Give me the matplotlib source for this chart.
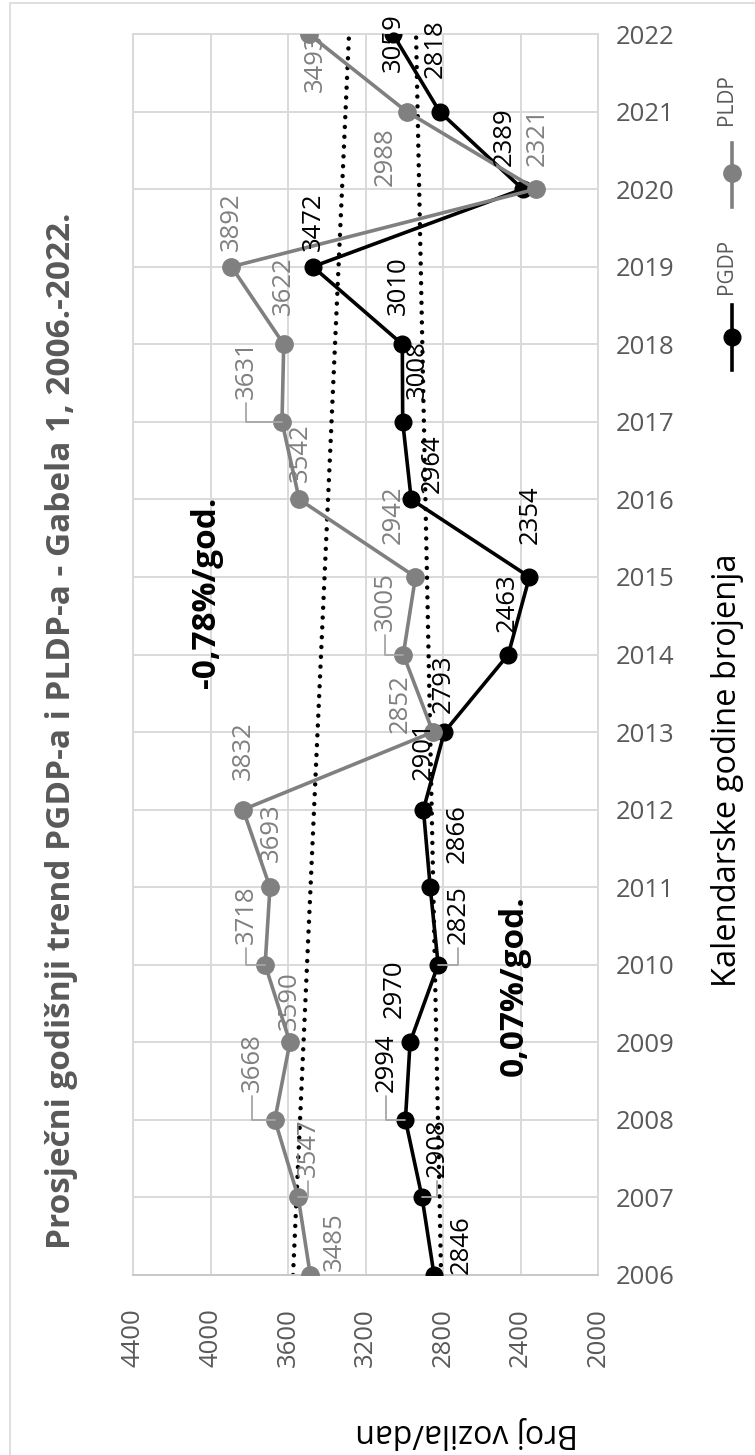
import numpy as np
import matplotlib.pyplot as plt
from matplotlib.lines import Line2D
from matplotlib.patches import Rectangle

plt.rcParams['font.family'] = ['Open Sans', 'DejaVu Sans']

### podaci
godine = list(range(2006, 2023))
pgdp = [2846, 2908, 2994, 2970, 2825, 2866, 2901, 2793, 2463, 2354, 2964, 3008, 3010, 3472, 2389, 2818, 3059]
pldp = [3485, 3547, 3668, 3590, 3718, 3693, 3832, 2852, 3005, 2942, 3542, 3631, 3622, 3892, 2321, 2988, 3493]
# trend linije (krajnje vrijednosti ocitane sa slike)
trend_god = [2006, 2022]
pgdp_trend = [2810, 2939]
pldp_trend = [3574, 3285]
vrijednosti = [4400, 4000, 3600, 3200, 2800, 2400, 2000]

naslov = 'Prosječni godišnji trend PGDP-a i PLDP-a - Gabela 1, 2006.-2022.'

# pomaci oznaka u pikselima (dx, dy prema dolje)
pgdp_off = [(27, -30), (15, -50), (-19, -57), (-16, -54), (20, -50), (27, -54), (0, -59), (-1, -48),
            (-1, -52), (1, -62), (21, -36), (15, -52), (-4, -59), (1, -45), (-18, -52), (-4, -63), (0, 9)]
pldp_off = [(24, -33), (10, -50), (-23, -57), (-1, -42), (-19, -50), (1, -54), (0, -59), (-33, -28),
            (-18, -53), (-22, -62), (1, -47), (-36, -52), (0, -59), (0, -45), (1, -52), (-21, 45), (7, 29)]
# oznake s linijom vodilicom
pgdp_vod = [0, 1, 1, 0, 1, 0, 0, 0, 0, 0, 0, 0, 0, 0, 0, 0, 0]
pldp_vod = [0, 1, 1, 0, 1, 0, 0, 0, 1, 0, 0, 1, 0, 0, 0, 0, 0]

W, H = 755, 1455
fig = plt.figure(figsize=(W/100, H/100), dpi=100)
ax = fig.add_axes([133/W, 1-1275/H, 465/W, 1241/H])

GRID = '#d9d9d9'
SIVA = '#808080'
TEKST = '#595959'
VODIC = '#a6a6a6'

ax.set_xlim(4400, 2000)
ax.set_ylim(2006, 2022)
ax.set_xticks(vrijednosti)
ax.set_yticks(godine)
ax.grid(True, color=GRID, lw=1.4)
ax.set_axisbelow(True)
for s in ax.spines.values():
    s.set_color(GRID)
    s.set_linewidth(1.4)
ax.spines['bottom'].set_color('#c8c8c8')
ax.yaxis.tick_right()
ax.tick_params(axis='y', length=0, pad=13, labelsize=18.5, labelcolor=TEKST)
ax.tick_params(axis='x', length=0, pad=24, labelsize=18.5, labelcolor=TEKST, labelrotation=90)

# trendovi
tocke = (0, (0.01, 2.2))
ax.plot(pldp_trend, trend_god, color='black', ls=tocke, lw=3.2, dash_capstyle='round', zorder=2)
ax.plot(pgdp_trend, trend_god, color='black', ls=tocke, lw=3.2, dash_capstyle='round', zorder=2)

# serije
ax.plot(pgdp, godine, color='black', lw=2.6, marker='o', ms=12, zorder=3)
ax.plot(pldp, godine, color=SIVA, lw=2.6, marker='o', ms=12.5, zorder=4)

def oznake(vals, off, vod, boja):
    for v, g, (dx, dy), l in zip(vals, godine, off, vod):
        ap = None
        if l:
            ap = dict(arrowstyle='-', color=VODIC, lw=1.3, shrinkA=1, shrinkB=0, relpos=(0.5, 0),
                      connectionstyle='angle,angleA=90,angleB=0,rad=0')
        ax.annotate(str(v), (v, g), xytext=(dx, -dy), textcoords='offset pixels', rotation=90,
                    ha='center', va='center', fontsize=18.5, color=boja, zorder=6, arrowprops=ap)

oznake(pgdp, pgdp_off, pgdp_vod, 'black')
oznake(pldp, pldp_off, pldp_vod, SIVA)

def ft(x, y, s, **kw):
    fig.text(x/W, 1-y/H, s, ha='center', va='center', **kw)

ft(62, 731, naslov, rotation=90, fontsize=24, fontweight='bold', color=TEKST)
ft(727, 770, 'Kalendarske godine brojenja', rotation=90, fontsize=23.5, color='black')
ft(467, 1432, 'Broj vozila/dan', rotation=180, fontsize=23, color='black')
ft(207, 592, '-0,78%/god.', rotation=90, fontsize=24, fontweight='bold', color='black')
ft(514, 986, '0,07%/god.', rotation=90, fontsize=24, fontweight='bold', color='black')

# legenda
fig.add_artist(Line2D([732/W, 732/W], [1-143/H, 1-207/H], color=SIVA, lw=2.6))
fig.add_artist(Line2D([732/W], [1-173/H], color=SIVA, marker='o', ms=12.5))
ft(727, 100, 'PLDP', rotation=90, fontsize=15, color=TEKST)
fig.add_artist(Line2D([732/W, 732/W], [1-305/H, 1-370/H], color='black', lw=2.6))
fig.add_artist(Line2D([732/W], [1-337/H], color='black', marker='o', ms=12))
ft(727, 266, 'PGDP', rotation=90, fontsize=15, color=TEKST)

# okvir grafikona
fig.add_artist(Rectangle((10/W, -0.01), 1, 1-3/H+0.01, transform=fig.transFigure,
                         fill=False, ec=GRID, lw=1.2))

fig.savefig('out.png', dpi=100)
